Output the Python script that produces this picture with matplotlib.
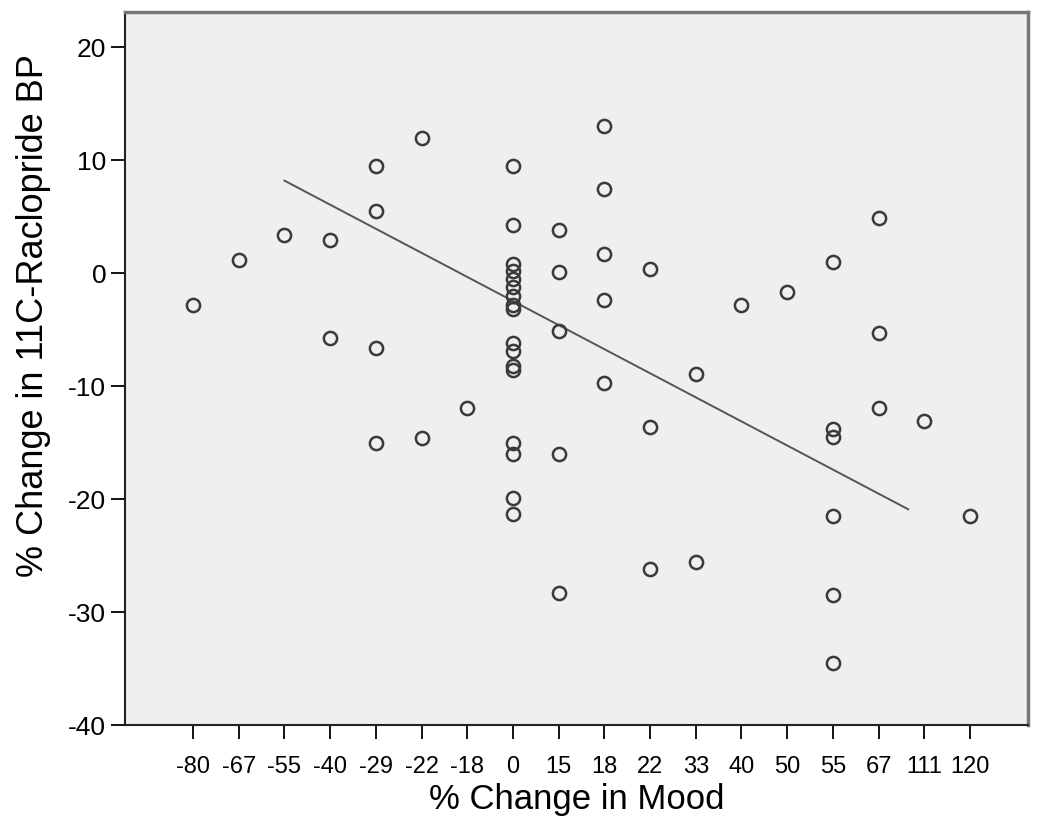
import matplotlib
matplotlib.use('Agg')
import matplotlib.pyplot as plt
import numpy as np

plt.rcParams['font.family'] = ['Liberation Sans', 'DejaVu Sans']
plt.rcParams['axes.unicode_minus'] = False

# categories on the x axis (equally spaced)
mood_labels = ['-80', '-67', '-55', '-40', '-29', '-22', '-18', '0', '15',
               '18', '22', '33', '40', '50', '55', '67', '111', '120']

# points: (mood category, % change in BP)
pt_mood = ['-80', '-67', '-55',
           '-40', '-40',
           '-29', '-29', '-29', '-29',
           '-22', '-22',
           '-18',
           '0', '0', '0', '0', '0', '0', '0', '0', '0', '0', '0', '0', '0', '0', '0', '0', '0',
           '15', '15', '15', '15', '15',
           '18', '18', '18', '18', '18',
           '22', '22', '22',
           '33', '33',
           '40', '50',
           '55', '55', '55', '55', '55', '55',
           '67', '67', '67',
           '111', '120']
pt_bp = [-2.8, 1.2, 3.4,
         2.9, -5.7,
         9.5, 5.5, -6.6, -15.0,
         12.0, -14.6,
         -11.9,
         9.5, 4.3, 0.8, 0.2, -0.5, -1.2, -2.0, -2.8, -3.2, -6.2, -6.9, -8.2, -8.6, -15.0, -16.0, -19.9, -21.3,
         3.8, 0.1, -5.1, -16.0, -28.3,
         13.0, 7.5, 1.7, -2.4, -9.7,
         0.4, -13.6, -26.2,
         -8.9, -25.6,
         -2.8, -1.7,
         1.0, -13.8, -14.5, -21.5, -28.5, -34.5,
         4.9, -5.3, -11.9,
         -13.1, -21.5]

# fitted line end points (category position, BP)
fit_pos = [2.0, 15.65]
fit_bp = [8.2, -20.9]

xpos = np.array([mood_labels.index(m) for m in pt_mood])

fig = plt.figure(figsize=(10.5, 8.22), dpi=100)
ax = fig.add_axes([0.119, 0.118, 0.860, 0.867])
ax.set_facecolor('#efefef')

ax.plot(xpos, pt_bp, 'o', mfc='none', mec='#3a3a3a', ms=9.5, mew=1.8, zorder=3)
ax.plot(fit_pos, fit_bp, '-', color='#555555', lw=1.4, zorder=2)

ax.set_xlim(-1.49, 18.27)
ax.set_ylim(-40, 23.1)
ax.set_xticks(range(len(mood_labels)))
ax.set_xticklabels(mood_labels, fontsize=17)
ax.set_yticks([-40, -30, -20, -10, 0, 10, 20])
ax.tick_params(axis='y', labelsize=19, length=10, width=1.3, direction='out')
ax.tick_params(axis='x', length=10, width=1.3, direction='out', pad=12)

for s in ['left', 'bottom']:
    ax.spines[s].set_color('#222222')
    ax.spines[s].set_linewidth(1.5)
for s in ['top', 'right']:
    ax.spines[s].set_color('#777777')
    ax.spines[s].set_linewidth(2.5)

ax.set_xlabel('% Change in Mood', fontsize=25, labelpad=4)
ax.set_ylabel('% Change in 11C-Raclopride BP', fontsize=26)
ax.yaxis.set_label_coords(-0.082, 0.575)

fig.savefig('out.png', dpi=100)
